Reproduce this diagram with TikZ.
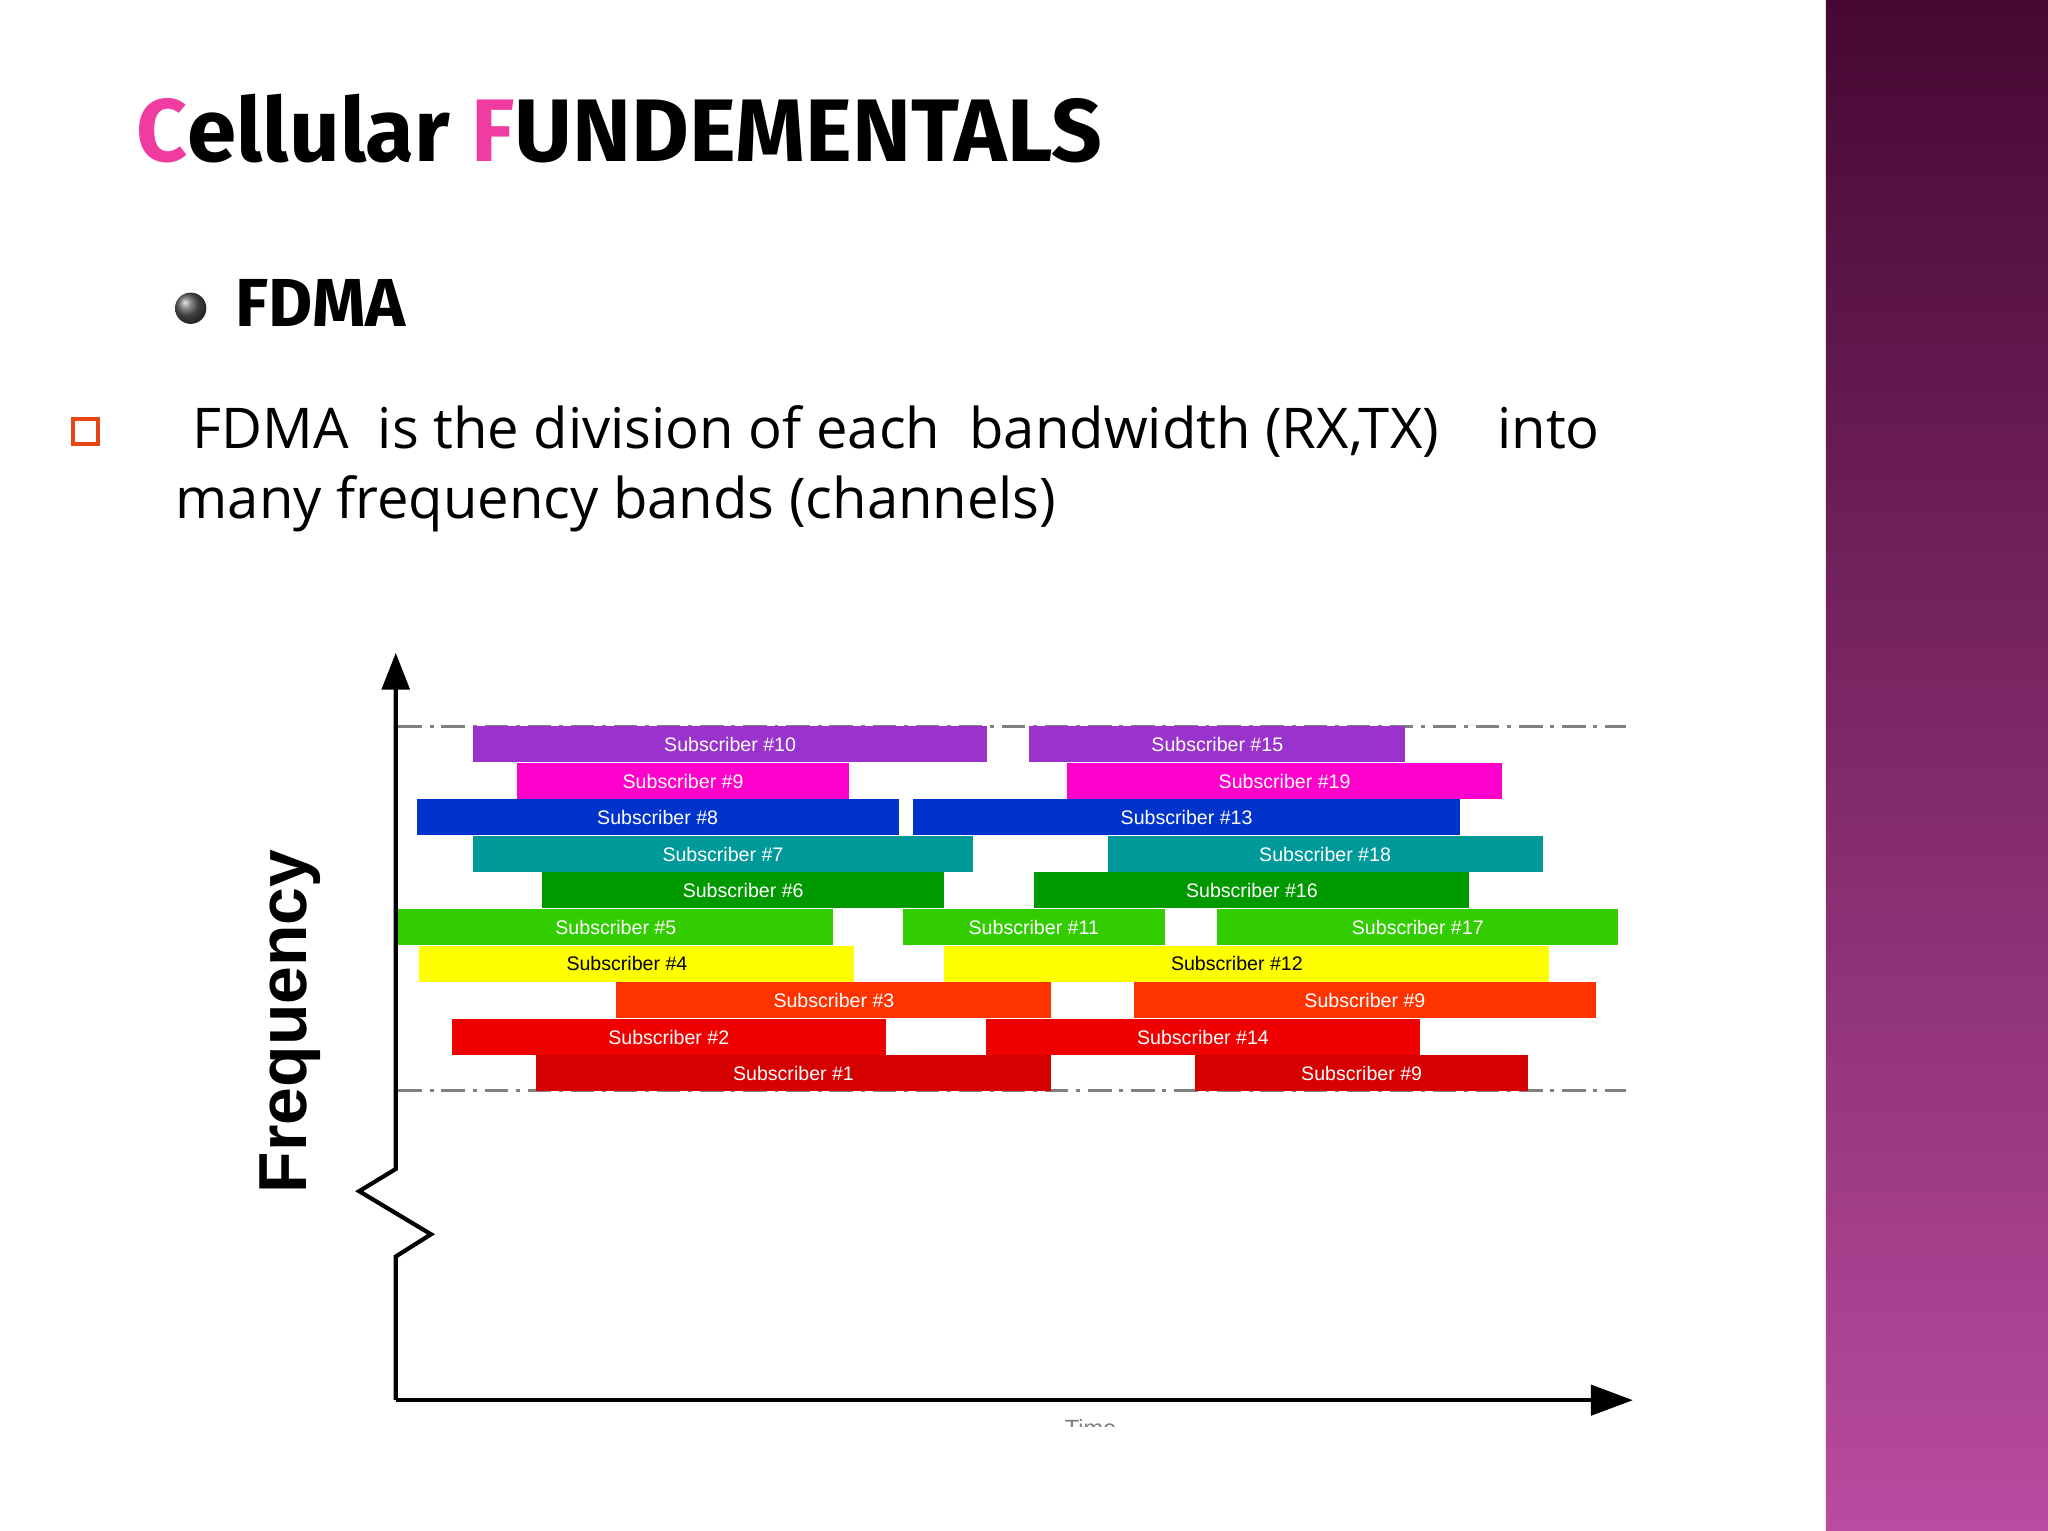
\documentclass[tikz,border=0pt]{standalone}
\usepackage{fontspec}
\setmainfont{Open Sans}
\newfontfamily\ttl{Fira Sans}
\newfontfamily\arl{Liberation Sans}
\begin{document}
\begin{tikzpicture}[x=0.5pt,y=-0.5pt,
 lbl/.style={text=white,font=\arl\fontsize{7.5}{8}\selectfont,inner sep=0pt},
 ax/.style={line width=1.6pt}]
\useasboundingbox (0,0) rectangle (1568,1172);
\fill[white] (0,0) rectangle (1568,1172);
\shade[top color={rgb,255:red,70;green,8;blue,50},bottom color={rgb,255:red,185;green,75;blue,160}] (1398,0) rectangle (1568,1172);
% title
\node[anchor=base west,inner sep=0pt,font=\ttl\bfseries\fontsize{34}{40}\selectfont] (title) at (104,124) {\textcolor[RGB]{240,60,160}{C}ellular \textcolor[RGB]{240,60,160}{F}UNDEMENTALS};
\shade[ball color=gray!70!black] (146,236) circle (12);
\node[anchor=base west,inner sep=0pt,font=\ttl\bfseries\fontsize{26}{30}\selectfont] (fdma) at (180,250) {FDMA};
\draw[line width=1.4pt,draw={rgb,255:red,230;green,70;blue,20}] (56,321) rectangle (75,340);
\node[anchor=base west,inner sep=0pt,font=\fontsize{21.5}{27}\selectfont] (l1) at (147,343) {FDMA\ \ is the division of each\ \ bandwidth (RX,TX)\ \ \ \ into};
\node[anchor=base west,inner sep=0pt,font=\fontsize{21.5}{27}\selectfont] (l2) at (134,397) {many frequency bands (channels)};
% dashed lines
\tikzset{dd/.style={gray,line width=1pt,dash pattern=on 9pt off 3pt on 1.5pt off 3pt}}
\draw[dd] (305,556) -- (1245,556);
\draw[dd] (305,835) -- (1245,835);
% bars
\def\B#1#2#3#4#5{\fill[#4] (#1,#3) rectangle (#2,#3+27.5); \node[lbl] at ({(#1+#2)/2},#3+14) {Subscriber \##5};}
\definecolor{c1}{RGB}{153,51,204}\definecolor{c2}{RGB}{255,0,204}\definecolor{c3}{RGB}{0,51,204}
\definecolor{c4}{RGB}{0,153,153}\definecolor{c5}{RGB}{0,153,0}\definecolor{c6}{RGB}{51,204,0}
\definecolor{c7}{RGB}{255,255,0}\definecolor{c8}{RGB}{255,51,0}\definecolor{c9}{RGB}{238,0,0}\definecolor{c10}{RGB}{214,0,0}
\B{362}{756}{556}{c1}{10}\B{788}{1076}{556}{c1}{15}
\B{396}{650}{584}{c2}{9}\B{817}{1150}{584}{c2}{19}
\B{319}{688}{612}{c3}{8}\B{699}{1118}{612}{c3}{13}
\B{362}{745}{640}{c4}{7}\B{848}{1181}{640}{c4}{18}
\B{415}{723}{668}{c5}{6}\B{792}{1125}{668}{c5}{16}
\B{305}{638}{696}{c6}{5}\B{691}{892}{696}{c6}{11}\B{932}{1239}{696}{c6}{17}
\fill[c7] (321,724) rectangle (654,751.5); \node[lbl,text=black] at (480,738) {Subscriber \#4};
\fill[c7] (723,724) rectangle (1186,751.5); \node[lbl,text=black] at (947,738) {Subscriber \#12};
\B{472}{805}{752}{c8}{3}\B{868}{1222}{752}{c8}{9}
\B{346}{678}{780}{c9}{2}\B{755}{1087}{780}{c9}{14}
\B{410}{805}{808}{c10}{1}\B{915}{1170}{808}{c10}{9}
% axes
\coordinate (o) at (303,1072);
\draw[ax] (303,1072) -- (303,962) -- (330,945) -- (275,912) -- (303,895) -- (303,525);
\fill (292,528) -- (303,500) -- (314,528) -- cycle;
\draw[ax] (o) -- (1222,1072);
\fill (1218,1060) -- (1250,1072) -- (1218,1084) -- cycle;
\node[rotate=90,font=\arl\bfseries\fontsize{26}{30}\selectfont] (freq) at (222,782) {Frequency};
\begin{scope}
\clip (790,1080) rectangle (880,1092);
\node[anchor=north,font=\arl\fontsize{9}{10}\selectfont,inner sep=0pt,text=gray] (time) at (835,1086) {Time};
\end{scope}
\end{tikzpicture}
\end{document}
